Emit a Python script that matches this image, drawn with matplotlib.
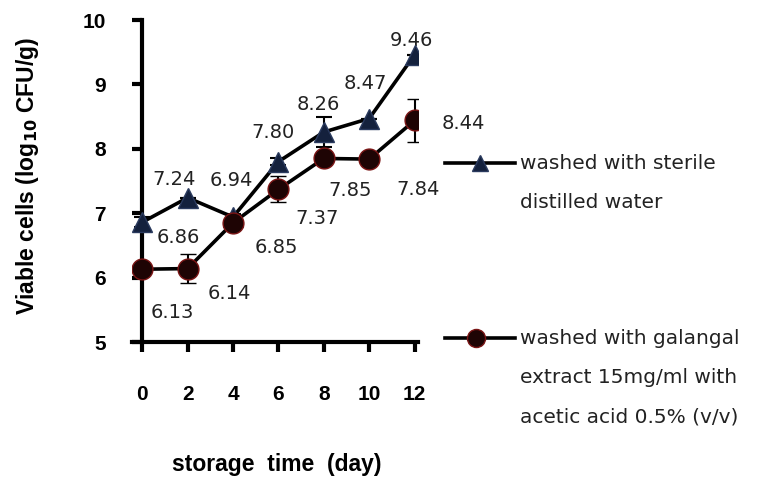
import matplotlib
matplotlib.use("Agg")
import matplotlib.pyplot as plt
from matplotlib.lines import Line2D

plt.rcParams.update({"figure.facecolor": "white", "axes.facecolor": "white"})

# data
days = [0, 2, 4, 6, 8, 10, 12]
water = [6.86, 7.24, 6.94, 7.80, 8.26, 8.47, 9.46]
water_err = [0.08, 0.0, 0.05, 0.05, 0.23, 0.0, 0.0]
galangal = [6.13, 6.14, 6.85, 7.37, 7.85, 7.84, 8.44]
galangal_err = [0.0, 0.23, 0.0, 0.2, 0.05, 0.0, 0.33]
yticks = [5, 6, 7, 8, 9, 10]

water_label = "washed with sterile\ndistilled water"
galangal_label = "washed with galangal\nextract 15mg/ml with\nacetic acid 0.5% (v/v)"

# label offsets in points (dx, dy)
water_off = [(26, -11), (-10, 13), (-1, 26), (-4, 21), (-4, 20), (-3, 25), (-2, 10)]
galangal_off = [(22, -31), (30, -18), (31, -18), (28, -21), (19, -23), (35, -22), (35, -2)]

fig = plt.figure(figsize=(7.6, 4.82), dpi=100)
ax = fig.add_axes([132 / 760, 1 - 342 / 482, 286 / 760, 322 / 482])

lw = 2.6
ax.errorbar(days, water, yerr=water_err, color="black", lw=lw, marker="^", ms=14,
            mfc="#14213d", mec="#2a3a5e", capsize=6, elinewidth=1.5, capthick=1.5, zorder=3)
ax.errorbar(days, galangal, yerr=galangal_err, color="black", lw=lw, marker="o", ms=15,
            mfc="#1e0404", mec="#7a1515", mew=1, capsize=6, elinewidth=1.5, capthick=1.5, zorder=3)

for x, y, (dx, dy) in zip(days, water, water_off):
    ax.annotate(f"{y:.2f}", (x, y), textcoords="offset points", xytext=(dx, dy),
                ha="center", va="center", fontsize=14, color="#222222")
for x, y, (dx, dy) in zip(days, galangal, galangal_off):
    ax.annotate(f"{y:.2f}", (x, y), textcoords="offset points", xytext=(dx, dy),
                ha="center", va="center", fontsize=14, color="#222222")

ax.set_xlim(-0.45, 12.15)
ax.set_ylim(5, 10)
ax.spines["left"].set_position(("data", 0))
ax.spines["top"].set_visible(False)
ax.spines["right"].set_visible(False)
for s in ("left", "bottom"):
    ax.spines[s].set_linewidth(3)
ax.spines["left"].set_bounds(5, 10)
tick_font = dict(fontsize=15, fontweight="bold", family="Liberation Sans")
ax.set_xticks(days, labels=[str(d) for d in days], **tick_font)
ax.set_yticks(yticks, labels=[str(v) for v in yticks], **tick_font)
ax.tick_params(axis="both", direction="out", length=7, width=3)
ax.tick_params(axis="y", pad=19)
ax.tick_params(axis="x", pad=24)

fig.text(28 / 760, 1 - 176 / 482, r"Viable cells (log$_{\mathbf{10}}$ CFU/g)", rotation=90,
         ha="center", va="center", fontsize=16.5, fontweight="bold", family="Liberation Sans")
fig.text(277 / 760, 1 - 465 / 482, "storage  time  (day)", ha="center", va="center",
         fontsize=16.5, fontweight="bold", family="Liberation Sans")

# legend drawn by hand to match the layout
def legend_entry(y, marker, ms, mfc, mec, mx, text):
    fig.add_artist(Line2D([445 / 760, 515 / 760], [1 - y / 482] * 2, color="black", lw=lw,
                          transform=fig.transFigure))
    fig.add_artist(Line2D([mx / 760], [1 - y / 482], marker=marker, ms=ms, mfc=mfc, mec=mec,
                          lw=0, transform=fig.transFigure))
    fig.text(520 / 760, 1 - (y - 9) / 482, text, ha="left", va="top", fontsize=14.5,
             color="#222222", linespacing=2.35)

legend_entry(163, "^", 12, "#14213d", "#2a3a5e", 480, water_label)
legend_entry(338, "o", 13, "#1e0404", "#7a1515", 476, galangal_label)

fig.savefig("out.png", dpi=100)
